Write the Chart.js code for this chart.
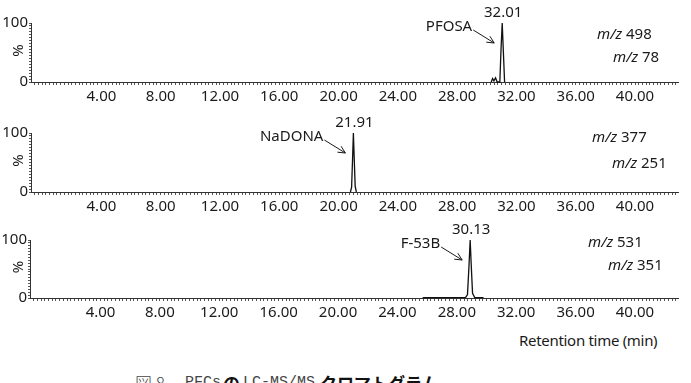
<!DOCTYPE html>
<html lang="ja">
<head>
  <meta charset="UTF-8">
  <title>PFCs LC-MS/MS chromatogram</title>
  <script src="https://cdn.jsdelivr.net/npm/chart.js"></script>
  <style>
    html, body {
      margin: 0;
      padding: 0;
      background: #fff;
      overflow: hidden;
    }

    body {
      position: relative;
      width: 691px;
      height: 383px;
      font-family: 'Noto Sans', sans-serif;
      color: #1a1a1a;
    }

    canvas {
      position: absolute;
      left: 0;
    }

    #xlabel {
      position: absolute;
      left: 519px;
      top: 330px;
      font-size: 15px;
      line-height: 20px;
      letter-spacing: -0.3px;
      white-space: nowrap;
    }

    #caption span {
      position: absolute;
      top: 373px;
      line-height: 20px;
      white-space: nowrap;
    }

    .thin {
      font-family: 'Liberation Mono', monospace;
      font-size: 15px;
      color: #444;
    }

    .bold {
      font-family: 'Noto Sans CJK JP', sans-serif;
      font-weight: 700;
      font-size: 17px;
      color: #111;
    }
  </style>
</head>
<body>
  <canvas id="c1" width="691" height="110" style="top:0px"></canvas>
  <canvas id="c2" width="691" height="110" style="top:110px"></canvas>
  <canvas id="c3" width="691" height="110" style="top:220px"></canvas>

  <div id="xlabel">Retention time (min)</div>

  <div id="caption">
    <span class="thin" style="left:135px; font-family:'Noto Sans CJK JP'; font-weight:300; font-size:17px">図 8</span>
    <span class="thin" style="left:185px">PFCs</span>
    <span class="bold" style="left:223px">の</span>
    <span class="thin" style="left:243px">LC-MS/MS</span>
    <span class="bold" style="left:320px">クロマトグラム</span>
  </div>

  <script>
    // axis ticks
    const xMajorTicks = [4, 8, 12, 16, 20, 24, 28, 32, 36, 40];
    const yTickLabels = [0, 100];

    // traces (retention time on the drawn axis, intensity %)
    const rtPFOSA  = [30.3, 30.39, 30.48, 30.59, 30.7, 30.88, 30.96, 31.04, 31.12, 31.2];
    const intPFOSA = [0,    6,     2,     7,     0,    0,     55,    100,   50,    0];

    const rtNaDONA  = [20.8, 20.88, 20.95, 21.0, 21.05, 21.12, 21.2];
    const intNaDONA = [0,    8,     60,    100,  62,    10,    0];

    const rtF53B  = [25.7, 28.6, 28.72, 28.82, 28.9, 28.97, 29.06, 29.2, 29.8];
    const intF53B = [0.8,  1,    6,     55,    100,  58,    8,     1,    0.6];

    // annotations
    const peakLabels = ['32.01', '21.91', '30.13'];
    const compoundNames = ['PFOSA', 'NaDONA', 'F-53B'];
    const precursorMz = ['498', '377', '531'];
    const productMz = ['78', '251', '351'];

    // where each panel sits inside its canvas
    const panelLayout = [
      { padTop: 23, xHeight: 28, yWidth: 31, mz1: [597, 35], mz2: [613, 58] },
      { padTop: 23, xHeight: 28, yWidth: 31, mz1: [592, 28], mz2: [612, 54] },
      { padTop: 20, xHeight: 32, yWidth: 30, mz1: [588, 23], mz2: [608, 46] }
    ];

    const FONT = '"Noto Sans", sans-serif';
    const INK = '#1a1a1a';

    const overlay = {
      id: 'overlay',
      afterDatasetsDraw(chart, args, o) {
        const { ctx, scales: { x, y } } = chart;
        const pts = chart.data.datasets[0].data;
        const apex = pts.reduce((a, p) => (p.y > a.y ? p : a));
        const px = x.getPixelForValue(apex.x);
        const py = y.getPixelForValue(apex.y);

        ctx.save();
        ctx.fillStyle = INK;
        ctx.strokeStyle = INK;
        ctx.font = '15px ' + FONT;
        ctx.textBaseline = 'middle';

        // retention time over the peak
        ctx.textAlign = 'center';
        ctx.fillText(o.peak, px + 1, py - 10);

        // compound name with arrow to the peak
        ctx.textAlign = 'right';
        ctx.fillText(o.name, px - 30, py + 4);

        const x0 = px - 29, y0 = py + 7, x1 = px - 8, y1 = py + 20;
        const ang = Math.atan2(y1 - y0, x1 - x0);
        ctx.lineWidth = 1;
        ctx.beginPath();
        ctx.moveTo(x0, y0);
        ctx.lineTo(x1, y1);
        ctx.moveTo(x1 - 8 * Math.cos(ang - 0.45), y1 - 8 * Math.sin(ang - 0.45));
        ctx.lineTo(x1, y1);
        ctx.lineTo(x1 - 8 * Math.cos(ang + 0.45), y1 - 8 * Math.sin(ang + 0.45));
        ctx.stroke();

        // m/z channels
        ctx.textAlign = 'left';
        [[o.mz1, o.pos1], [o.mz2, o.pos2]].forEach(([val, pos]) => {
          ctx.font = 'italic 15px ' + FONT;
          ctx.fillText('m/z', pos[0], pos[1]);
          const w = ctx.measureText('m/z').width;
          ctx.font = '15px ' + FONT;
          ctx.fillText(' ' + val, pos[0] + w, pos[1]);
        });

        // "%" axis title
        ctx.font = '15px ' + FONT;
        ctx.textAlign = 'center';
        ctx.translate(19, (y.top + y.bottom) / 2 - 2);
        ctx.rotate(-Math.PI / 2);
        ctx.fillText('%', 0, 0);
        ctx.restore();
      }
    };

    function makePanel(id, i, rt, inten) {
      const L = panelLayout[i];
      return new Chart(document.getElementById(id), {
        type: 'line',
        data: {
          datasets: [{
            data: rt.map((t, k) => ({ x: t, y: inten[k] })),
            borderColor: '#111',
            borderWidth: 1.3,
            pointRadius: 0,
            tension: 0,
            fill: false,
            clip: false
          }]
        },
        options: {
          responsive: false,
          animation: false,
          layout: { padding: { top: L.padTop, right: 13, bottom: 0, left: 0 } },
          plugins: {
            legend: { display: false },
            tooltip: { enabled: false },
            overlay: {
              peak: peakLabels[i],
              name: compoundNames[i],
              mz1: precursorMz[i],
              mz2: productMz[i],
              pos1: L.mz1,
              pos2: L.mz2
            }
          },
          scales: {
            x: {
              type: 'linear',
              min: -0.75,
              max: 42.9,
              afterBuildTicks(s) {
                const t = [];
                for (let k = -2; k <= 171; k++) t.push({ value: k / 4 });
                s.ticks = t;
              },
              afterFit(s) { s.height = L.xHeight; },
              ticks: {
                autoSkip: false,
                maxRotation: 0,
                padding: 3,
                color: INK,
                font: { family: 'Noto Sans', size: 15 },
                callback: v => (xMajorTicks.some(m => Math.abs(m - v) < 1e-6) ? v.toFixed(2) : '')
              },
              grid: { drawOnChartArea: false, tickLength: 3, tickColor: '#555' },
              border: { color: '#333', width: 1 }
            },
            y: {
              min: 0,
              max: 100,
              afterFit(s) { s.width = L.yWidth; },
              ticks: {
                stepSize: 5,
                autoSkip: false,
                padding: 1,
                color: INK,
                font: { family: 'Noto Sans', size: 15 },
                callback: v => (yTickLabels.includes(v) ? String(v) : '')
              },
              grid: { drawOnChartArea: false, tickLength: 2, tickColor: '#555' },
              border: { color: '#333', width: 1 }
            }
          }
        },
        plugins: [overlay]
      });
    }

    makePanel('c1', 0, rtPFOSA, intPFOSA);
    makePanel('c2', 1, rtNaDONA, intNaDONA);
    makePanel('c3', 2, rtF53B, intF53B);
  </script>
</body>
</html>
